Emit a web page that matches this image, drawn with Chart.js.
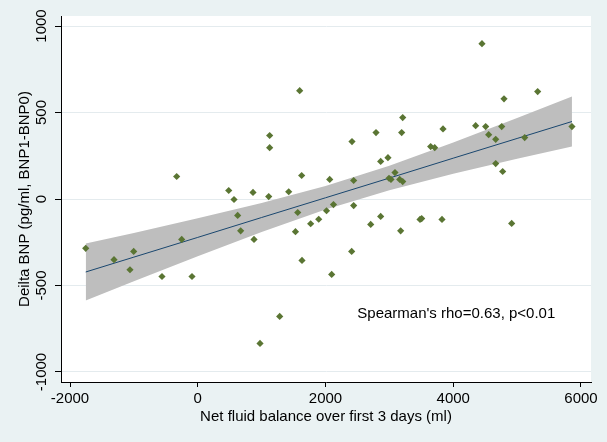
<!DOCTYPE html>
<html>
<head>
<meta charset="utf-8">
<script src="https://cdn.jsdelivr.net/npm/chart.js@4"></script>
<style>
  html, body { margin: 0; padding: 0; background: #eaf2f3; }
  #wrap { width: 607px; height: 442px; }
</style>
</head>
<body>
<div id="wrap"><canvas id="scatterChart" width="607" height="442"></canvas></div>
<script>
// net fluid balance (ml) and delta BNP (pg/ml)
const fluidBalance = [
  -1754, -1311, -1003, -1061, -560, -330, -251, -90,
  485, 568, 625, 672, 865, 881, 975, 1111, 1126, 1126,
  1283, 1424, 1565, 1530, 1596, 1627, 1632, 1768, 1894, 2016,
  2066, 2097, 2125, 2415, 2441, 2441, 2410, 2708, 2791, 2864,
  2978, 2864, 2994, 3025, 3088, 3162, 3209, 3209, 3193, 3177,
  3480, 3506, 3824, 3840, 3647, 3710, 4351, 4450, 4508, 4555,
  4665, 4665, 4759, 4774, 4795, 4915, 5119, 5322, 5859,
];
const deltaBNP = [
  -285, -351, -303, -409, -448, 130, -234, -448,
  49, -3, -95, -184, 38, -234, -835, 14, 367, 297,
  -679, 42, -78, -189, 626, 136, -355, -143, -117, -68,
  113, -436, -32, 332, 107, -38, -303, -147, 384, 217,
  239, -101, 120, 113, 153, 113, 101, 471, 384, -184,
  -118, -113, -118, 405, 303, 297, 424, 898, 419, 372,
  345, 205, 419, 159, 579, -141, 355, 621, 419,
];

// fitted line and 95% CI band, read at a few x positions
const fitX = [-1754, -1000, 0, 1000, 2000, 3000, 4000, 5000, 5859];
const fitY = [-422, -336, -222, -107, 7, 121, 236, 350, 448];
const ciHigh = [-257, -196, -112, -23, 75, 192, 326, 468, 593];
const ciLow = [-587, -476, -331, -191, -61, 50, 146, 233, 304];

const xTicks = [-2000, 0, 2000, 4000, 6000];
const yTicks = [-1000, -500, 0, 500, 1000];
const noteText = "Spearman's rho=0.63, p<0.01";
const notePos = { x: 2498, y: -663 };

const FONT = "'Liberation Sans', Arial, sans-serif";

function pts(xs, ys) {
  return xs.map(function (x, i) { return { x: x, y: ys[i] }; });
}

// white plot region on the blue-grey page
const plotBg = {
  id: "plotBg",
  beforeDraw: function (chart) {
    const a = chart.chartArea;
    const c = chart.ctx;
    c.save();
    c.fillStyle = "#eaf2f3";
    c.fillRect(0, 0, chart.width, chart.height);
    c.fillStyle = "#ffffff";
    c.fillRect(a.left, a.top, a.right - a.left, a.bottom - a.top);
    c.restore();
  },
};

// vertical y tick labels and the text note
const extraText = {
  id: "extraText",
  afterDraw: function (chart) {
    const c = chart.ctx;
    const ys = chart.scales.y;
    const xs = chart.scales.x;
    c.save();
    c.fillStyle = "#000";
    c.font = "15px " + FONT;
    c.textAlign = "center";
    c.textBaseline = "middle";
    yTicks.forEach(function (v) {
      c.save();
      c.translate(42, ys.getPixelForValue(v));
      c.rotate(-Math.PI / 2);
      c.fillText(String(v), 0, 0);
      c.restore();
    });
    c.textAlign = "left";
    c.fillText(noteText, xs.getPixelForValue(notePos.x), ys.getPixelForValue(notePos.y));
    c.restore();
  },
};

new Chart(document.getElementById("scatterChart").getContext("2d"), {
  type: "scatter",
  data: {
    datasets: [
      {
        data: pts(fluidBalance, deltaBNP),
        pointStyle: "rectRot",
        pointRadius: 3.6,
        backgroundColor: "#5a7533",
        borderColor: "#5a7533",
        borderWidth: 0,
        order: 0,
      },
      {
        type: "line",
        data: pts(fitX, fitY),
        borderColor: "#1a476f",
        borderWidth: 1,
        pointRadius: 0,
        fill: false,
        order: 1,
      },
      {
        type: "line",
        data: pts(fitX, ciHigh),
        borderWidth: 0,
        borderColor: "rgba(0,0,0,0)",
        pointRadius: 0,
        fill: false,
        order: 3,
      },
      {
        type: "line",
        data: pts(fitX, ciLow),
        borderWidth: 0,
        borderColor: "rgba(0,0,0,0)",
        backgroundColor: "#bebebe",
        pointRadius: 0,
        fill: "-1",
        order: 2,
      },
    ],
  },
  options: {
    responsive: false,
    animation: false,
    layout: { padding: { left: 12, top: 16, right: 16, bottom: 12 } },
    plugins: {
      legend: { display: false },
      tooltip: { enabled: false },
    },
    scales: {
      x: {
        type: "linear",
        min: -2141,
        max: 6157,
        afterBuildTicks: function (s) {
          s.ticks = xTicks.map(function (v) { return { value: v }; });
        },
        afterFit: function (s) { s.height = 48; },
        grid: {
          drawOnChartArea: false,
          tickLength: 5,
          tickColor: "#000",
        },
        border: { color: "#000", width: 1 },
        ticks: {
          color: "#000",
          font: { family: FONT, size: 15 },
          padding: 3,
          maxRotation: 0,
          callback: function (value) {
            return String(value);
          },
        },
        title: {
          display: true,
          text: "Net fluid balance over first 3 days (ml)",
          color: "#000",
          font: { family: FONT, size: 15 },
          padding: { top: 4, bottom: 4 },
        },
      },
      y: {
        type: "linear",
        min: -1058,
        max: 1058,
        afterBuildTicks: function (s) {
          s.ticks = yTicks.map(function (v) { return { value: v }; });
        },
        afterFit: function (s) { s.width = 49; },
        grid: {
          color: "#e4ebee",
          tickColor: "#000",
          tickLength: 6,
        },
        border: { color: "#000", width: 1 },
        ticks: { display: false },
        title: {
          display: true,
          text: "Deilta BNP (pg/ml, BNP1-BNP0)",
          color: "#000",
          font: { family: FONT, size: 15 },
          padding: { top: 4, bottom: 4 },
        },
      },
    },
  },
  plugins: [plotBg, extraText],
});
</script>
</body>
</html>
